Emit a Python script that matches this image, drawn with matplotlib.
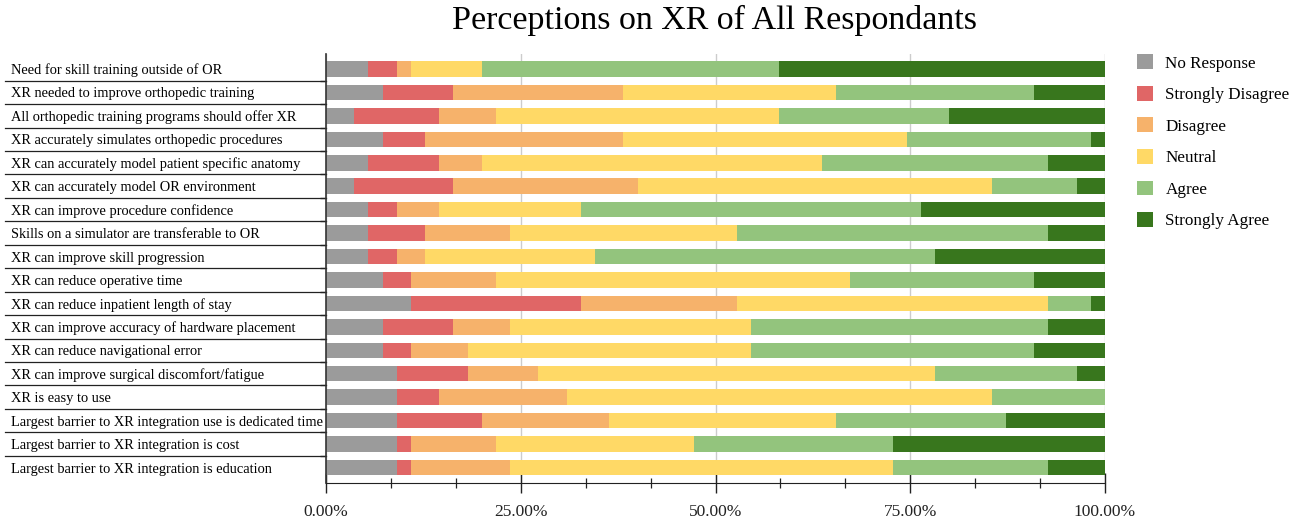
import numpy as np
import matplotlib
matplotlib.use('Agg')
import matplotlib.pyplot as plt
from matplotlib.ticker import FuncFormatter, MultipleLocator
from matplotlib.patches import Patch

# survey statements, top to bottom
statements = [
    'Need for skill training outside of OR',
    'XR needed to improve orthopedic training',
    'All orthopedic training programs should offer XR',
    'XR accurately simulates orthopedic procedures',
    'XR can accurately model patient specific anatomy',
    'XR can accurately model OR environment',
    'XR can improve procedure confidence',
    'Skills on a simulator are transferable to OR',
    'XR can improve skill progression',
    'XR can reduce operative time',
    'XR can reduce inpatient length of stay',
    'XR can improve accuracy of hardware placement',
    'XR can reduce navigational error',
    'XR can improve surgical discomfort/fatigue',
    'XR is easy to use',
    'Largest barrier to XR integration use is dedicated time',
    'Largest barrier to XR integration is cost',
    'Largest barrier to XR integration is education',
]

responseNames = ['No Response', 'Strongly Disagree', 'Disagree', 'Neutral', 'Agree', 'Strongly Agree']

# number of respondents per answer (55 in total)
noResponse       = [3, 4, 2, 4, 3, 2, 3, 3, 3, 4, 6, 4, 4, 5, 5, 5, 5, 5]
stronglyDisagree = [2, 5, 6, 3, 5, 7, 2, 4, 2, 2, 12, 5, 2, 5, 3, 6, 1, 1]
disagree         = [1, 12, 4, 14, 3, 13, 3, 6, 2, 6, 11, 4, 4, 5, 9, 9, 6, 7]
neutral          = [5, 15, 20, 20, 24, 25, 10, 16, 12, 25, 22, 17, 20, 28, 30, 16, 14, 27]
agree            = [21, 14, 12, 13, 16, 6, 24, 22, 24, 13, 3, 21, 20, 10, 8, 12, 14, 11]
stronglyAgree    = [23, 5, 11, 1, 4, 2, 13, 4, 12, 5, 1, 4, 5, 2, 0, 7, 15, 4]

colors = ['#9b9b9b', '#e06666', '#f6b26b', '#ffd966', '#93c47d', '#38761d']

plt.rcParams['font.family'] = ['Liberation Serif', 'DejaVu Serif']


def drawChart():
    counts = np.array([noResponse, stronglyDisagree, disagree, neutral, agree, stronglyAgree], dtype=float)
    percents = counts / counts.sum(axis=0) * 100
    y = np.arange(len(statements))

    fig = plt.figure(figsize=(13.01, 5.2), dpi=100)
    ax = fig.add_axes([326 / 1301, 1 - 483 / 520, 779 / 1301, 429 / 520])

    left = np.zeros(len(statements))
    for name, vals, col in zip(responseNames, percents, colors):
        ax.barh(y, vals, left=left, height=0.66, color=col, label=name, zorder=2)
        left += vals

    ax.set_xlim(0, 100)
    ax.set_ylim(len(statements) - 0.34, -0.64)

    # x axis: percent labels, minor ticks every twelfth
    ax.xaxis.set_major_locator(MultipleLocator(25))
    ax.xaxis.set_minor_locator(MultipleLocator(100 / 12))
    ax.xaxis.set_major_formatter(FuncFormatter(lambda v, p: '%.2f%%' % v))
    ax.tick_params(axis='x', which='major', direction='inout', length=14, width=1, pad=8,
                   labelsize=12.5, colors='#222222')
    ax.tick_params(axis='x', which='minor', direction='inout', length=7, width=0.9, colors='#222222')
    ax.grid(axis='x', which='major', color='#cccccc', linewidth=1, zorder=0)

    # y axis: labels left aligned in a column with separator lines
    ax.set_yticks(y)
    ax.set_yticklabels(statements)
    for lab in ax.get_yticklabels():
        lab.set_ha('left')
    ax.tick_params(axis='y', which='major', length=0, pad=227, labelsize=10.4)
    ax.set_yticks(np.arange(0.5, len(statements) - 1), minor=True)
    ax.tick_params(axis='y', which='minor', length=4, width=1, color='#333333')

    trans = ax.get_yaxis_transform()
    for b in np.arange(0.5, len(statements) - 1):
        ax.plot([-321 / 779, 0], [b, b], transform=trans, color='#222222', linewidth=0.9, clip_on=False)

    for side in ['top', 'right']:
        ax.spines[side].set_visible(False)
    ax.spines['left'].set_color('#333333')
    ax.spines['bottom'].set_color('#222222')
    ax.spines['left'].set_linewidth(1.2)

    fig.text(715 / 1301, 1 - 20 / 520, 'Perceptions on XR of All Respondants',
             fontsize=24.5, ha='center', va='center')

    handles = [Patch(facecolor=c, edgecolor='none') for c in colors]
    fig.legend(handles, responseNames, loc='upper left', bbox_to_anchor=(1122 / 1301, 1 - 39 / 520),
               frameon=False, fontsize=12.3, handlelength=0.94, handleheight=0.94,
               handletextpad=0.7, labelspacing=0.84)

    fig.savefig('out.png', dpi=100)


def main():
    drawChart()


if __name__ == '__main__':
    main()
